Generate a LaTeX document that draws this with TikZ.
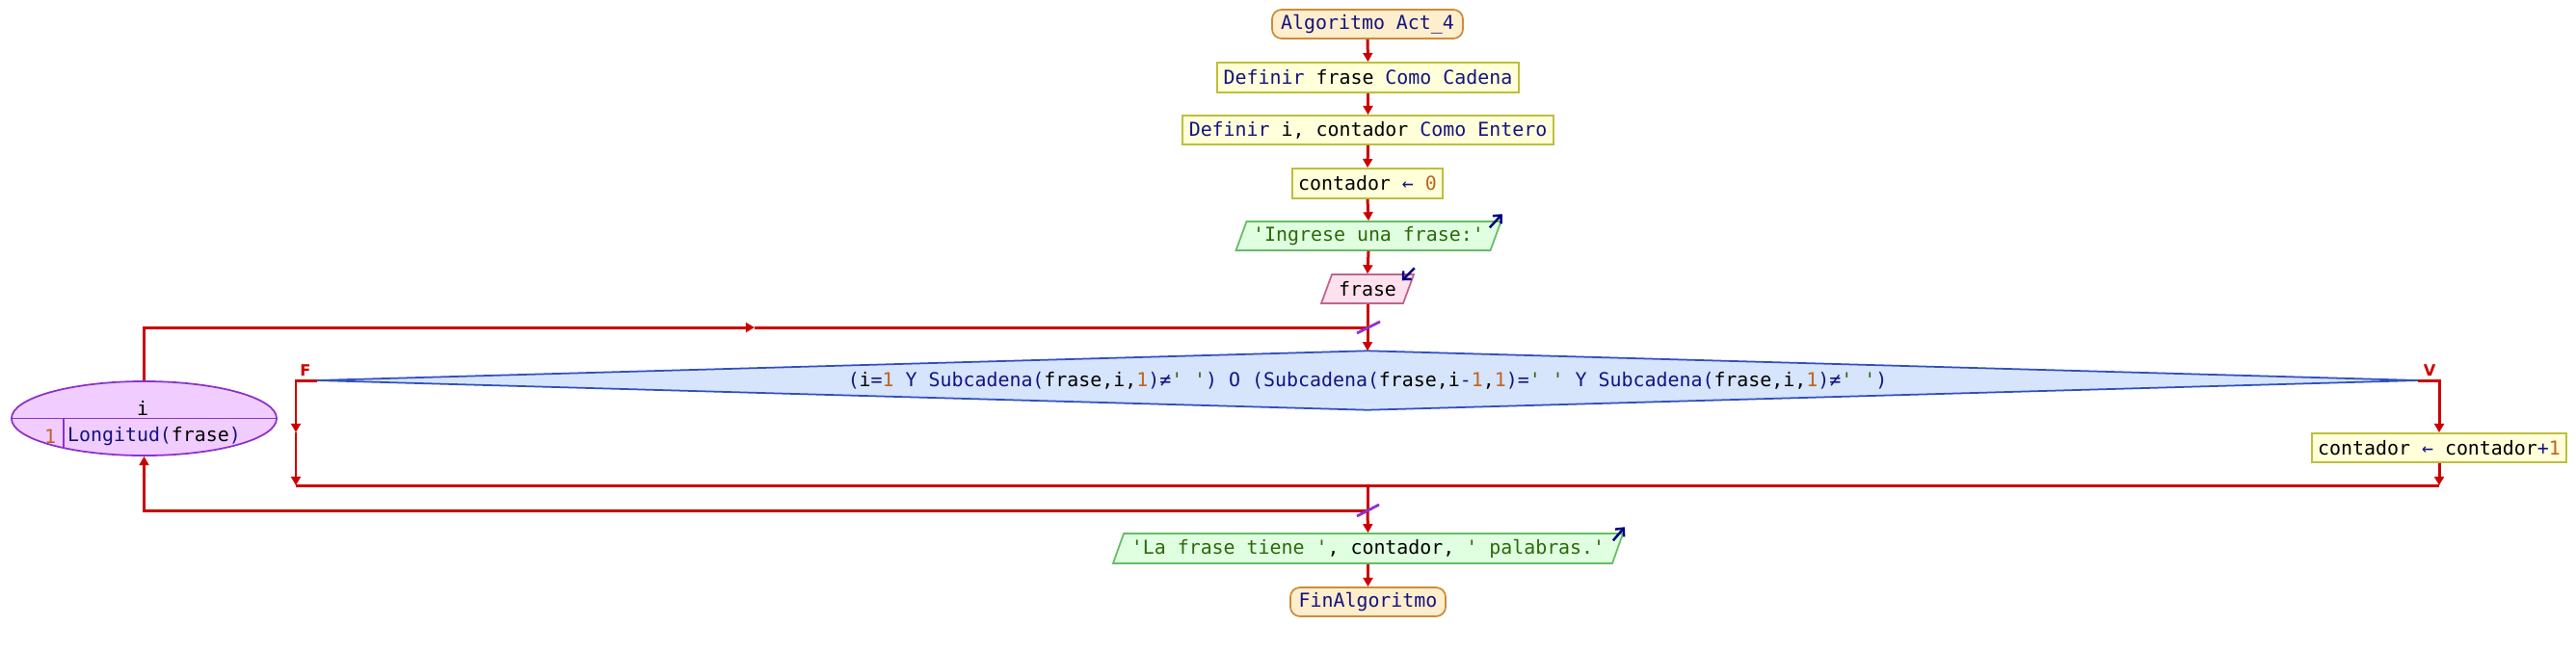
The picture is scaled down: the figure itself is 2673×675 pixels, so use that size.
\documentclass[tikz,border=0pt]{standalone}
\usepackage{fontspec}
\newfontfamily\pse{DejaVu Sans Mono}[Ligatures=TeXOff]
\newfontfamily\labf{DejaVu Sans}
\usetikzlibrary{arrows.meta,shapes.geometric,calc}
\definecolor{kwc}{RGB}{20,20,128}
\definecolor{numc}{RGB}{190,100,30}
\definecolor{strc}{RGB}{45,105,10}
\definecolor{termF}{RGB}{255,238,204}
\definecolor{termB}{RGB}{204,140,60}
\definecolor{procF}{RGB}{255,255,218}
\definecolor{procB}{RGB}{190,190,60}
\definecolor{outF}{RGB}{224,255,224}
\definecolor{outB}{RGB}{100,190,100}
\definecolor{inF}{RGB}{255,225,238}
\definecolor{inB}{RGB}{190,100,140}
\definecolor{decF}{RGB}{214,228,252}
\definecolor{decB}{RGB}{50,80,190}
\definecolor{loopF}{RGB}{240,204,255}
\definecolor{loopB}{RGB}{140,50,200}
\definecolor{connc}{RGB}{204,0,0}
\definecolor{slashc}{RGB}{140,50,210}
\definecolor{iconc}{RGB}{0,0,128}
\newcommand\idf[1]{\textcolor{black}{#1}}
\newcommand\nmb[1]{\textcolor{numc}{#1}}
\newcommand\strg[1]{\textcolor{strc}{#1}}
\newcommand\para[5]{\path[#5] (#1-#3-5.5,#2+#4) -- (#1-#3+5.5,#2-#4) -- (#1+#3+5.5,#2-#4) -- (#1+#3-5.5,#2+#4) -- cycle;}
\begin{document}
\begin{tikzpicture}[x=0.01cm,y=-0.01cm,
  base/.style={font=\pse\fontsize{5.66}{6.8}\selectfont, inner sep=0pt, text=kwc, minimum height=0.3cm},
  term/.style={base, draw=termB, fill=termF, rounded corners=0.1cm, line width=0.5pt},
  proc/.style={base, draw=procB, fill=procF, line width=0.5pt},
  outshape/.style={draw=outB, fill=outF, line width=0.5pt},
  inshape/.style={draw=inB, fill=inF, line width=0.5pt},
  decshape/.style={draw=decB, fill=decF, line width=0.5pt},
  conn/.style={draw=connc, line width=0.85pt},
  arr/.style={conn, -{Triangle[width=2.8pt,length=2.6pt]}},
  slash/.style={draw=slashc, line width=0.8pt},
  icon/.style={draw=iconc, line width=0.7pt, -{Straight Barb[length=1.8pt,width=3.4pt]}},
  lbl/.style={font=\labf\bfseries\fontsize{4.6}{5}\selectfont, text=connc, inner sep=0pt}]
\useasboundingbox[fill=white] (0,0) rectangle (2673,675);

% shapes drawn underneath
\para{1420}{245}{132}{15}{outshape}
\para{1419}{300}{42.5}{15}{inshape}
\para{1419.5}{569.5}{259}{15.5}{outshape}

% nodes
\node[term, minimum width=1.98cm] (start) at (1419,25) {Algoritmo Act\_4};
\node[proc, minimum width=3.13cm, minimum height=0.31cm] (def1) at (1419.5,80.5) {Definir \idf{frase} Como Cadena};
\node[proc, minimum width=3.85cm] (def2) at (1419.5,135) {Definir \idf{i, contador} Como Entero};
\node[proc, minimum width=1.56cm, minimum height=0.31cm] (asg0) at (1419,190.5) {\idf{contador} ← \nmb{0}};
\node[base, minimum width=2.64cm] (out1) at (1420,245) {\strg{'Ingrese una frase:'}};
\node[base, minimum width=0.85cm] (in1) at (1419,300) {\idf{frase}};

\node[base, minimum width=21.78cm, minimum height=0.6cm] (dec) at (1419,395) {};
\path[decshape] (dec.west) -- (dec.north) -- (dec.east) -- (dec.south) -- cycle;
\node[base] (dectext) at (1419,395) {(\idf{i}=\nmb{1} Y Subcadena(\idf{frase,i,}\nmb{1})≠\strg{' '}) O (Subcadena(\idf{frase,i}-\nmb{1}\idf{,}\nmb{1})=\strg{' '} Y Subcadena(\idf{frase,i,}\nmb{1})≠\strg{' '})};

\node[proc, minimum width=2.64cm] (asg1) at (2531,465) {\idf{contador} ← \idf{contador}+\nmb{1}};

\node[ellipse, draw=loopB, fill=loopF, line width=0.5pt, minimum width=2.75cm, minimum height=0.77cm, inner sep=0pt] (loop) at (149.5,434.5) {};
\draw[loopB, line width=0.5pt] (loop.west) -- (loop.east);
\coordinate (divT) at (66,434.5);
\coordinate (divB) at (66,465);
\draw[loopB, line width=0.5pt] (divT) -- (divB);
\node[base] (loopvar) at (148,424) {\idf{i}};
\node[base] (loopfrom) at (52,453) {\nmb{1}};
\node[base] (loopto) at (160,453) {Longitud(\idf{frase})};

\node[base, minimum width=5.18cm, minimum height=0.31cm] (out2) at (1419.5,569.5) {\strg{'La frase tiene '}\idf{, contador, }\strg{' palabras.'}};
\node[term, minimum width=1.61cm] (fin) at (1419.5,625) {FinAlgoritmo};

\node[lbl] (lblF) at (317,385) {F};
\node[lbl] (lblV) at (2521,385) {V};

% coordinates
\coordinate (jTop) at (1419,340);
\coordinate (aTop) at (783,340);
\coordinate (fMid) at (307,449);
\coordinate (fJoin) at (307,504);
\coordinate (vJoin) at (2531,504);
\coordinate (mJoin) at (1419,504);
\coordinate (lBack) at (1419,530);

% connectors
\draw[arr] (start.south) -- (def1.north);
\draw[arr] (def1.south) -- (def2.north);
\draw[arr] (def2.south) -- (asg0.north);
\draw[arr] (asg0.south) -- (out1.north);
\draw[arr] (out1.south) -- (in1.north);
\draw[arr] (in1.south) -- (dec.north);
\draw[arr] (loop.north) |- (aTop);
\draw[conn] (aTop) -- (jTop);
\draw[arr] (dec.west) -| (fMid);
\draw[arr] (fMid) -- (fJoin);
\draw[conn] (fJoin) -- (vJoin);
\draw[arr] (dec.east) -| (asg1.north);
\draw[arr] (asg1.south) -- (vJoin);
\draw[conn] (mJoin) -- (lBack);
\draw[arr] (lBack) -- (out2.north);
\draw[arr] (lBack) -| (loop.south);
\draw[arr] (out2.south) -- (fin.north);

% slashes
\draw[slash] ($(jTop)+(-11,6)$) -- ($(jTop)+(13,-6)$);
\draw[slash] ($(lBack)+(-11,6)$) -- ($(lBack)+(12,-6)$);

% io icons
\draw[icon] ($(out1.north east)+(-7,7)$) -- ($(out1.north east)+(6,-7)$);
\draw[icon] ($(in1.north east)+(5.5,-6)$) -- ($(in1.north east)+(-7.5,7)$);
\draw[icon] ($(out2.north east)+(-5.5,8)$) -- ($(out2.north east)+(6.5,-6)$);
\end{tikzpicture}
\end{document}
